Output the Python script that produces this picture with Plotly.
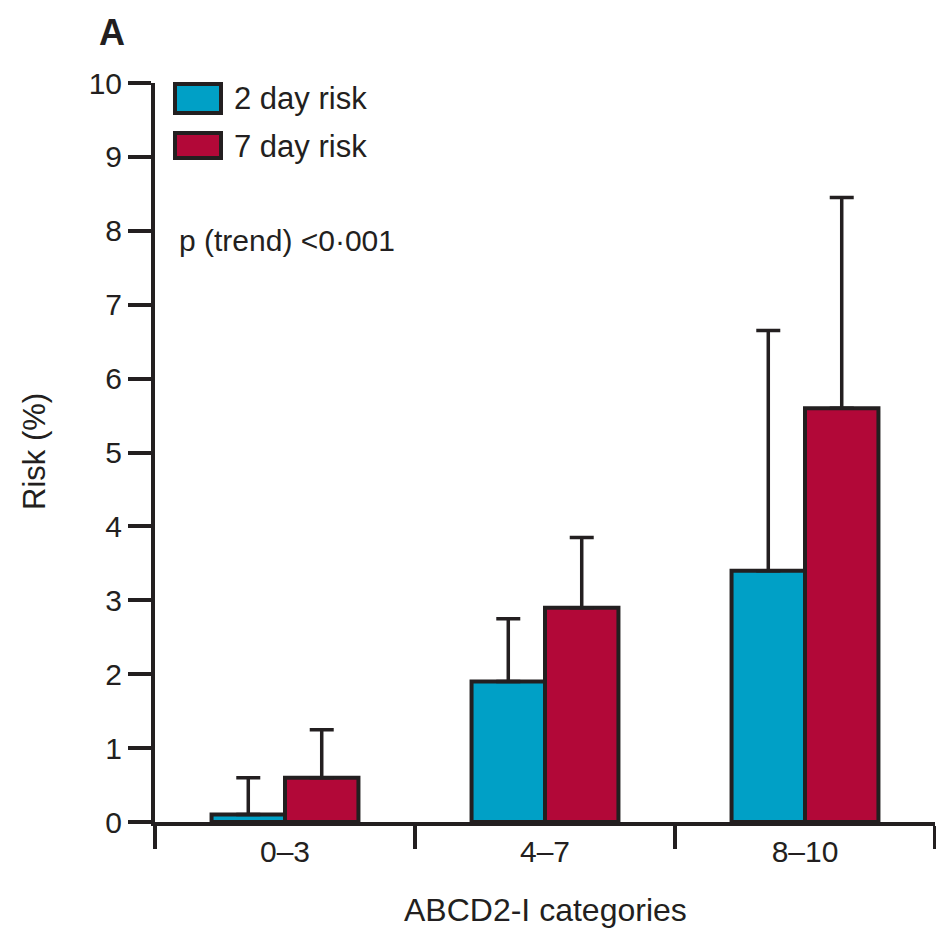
import plotly.graph_objects as go

categories = ["0–3", "4–7", "8–10"]
risk_2day = [0.1, 1.9, 3.4]
risk_2day_upper = [0.6, 2.75, 6.65]
risk_7day = [0.6, 2.9, 5.6]
risk_7day_upper = [1.25, 3.85, 8.45]
y_ticks = list(range(0, 11))

DARK = "#231f20"
BLUE = "#00a0c6"
RED = "#b20838"
FONT = "Liberation Sans, Arial, sans-serif"

err2 = [u - v for u, v in zip(risk_2day_upper, risk_2day)]
err7 = [u - v for u, v in zip(risk_7day_upper, risk_7day)]

fig = go.Figure()
fig.add_trace(go.Bar(
    x=categories, y=risk_2day, name="2 day risk",
    marker=dict(color=BLUE, line=dict(color=DARK, width=4)),
    error_y=dict(type="data", symmetric=False, array=err2, arrayminus=[0]*3,
                 color=DARK, thickness=3.5, width=12),
))
fig.add_trace(go.Bar(
    x=categories, y=risk_7day, name="7 day risk",
    marker=dict(color=RED, line=dict(color=DARK, width=4)),
    error_y=dict(type="data", symmetric=False, array=err7, arrayminus=[0]*3,
                 color=DARK, thickness=3.5, width=12),
))

W, H = 936, 931
L, T = 155, 83
R = W - 935
B = H - 822
pw, ph = W - L - R, H - T - B

def px(x):
    return (x - L) / pw

def py(y):
    return (H - B - y) / ph

shapes = [
    dict(type="rect", xref="paper", yref="paper", x0=px(175), x1=px(221), y0=py(113), y1=py(84),
         fillcolor=BLUE, line=dict(color=DARK, width=4)),
    dict(type="rect", xref="paper", yref="paper", x0=px(175), x1=px(221), y0=py(158), y1=py(133),
         fillcolor=RED, line=dict(color=DARK, width=4)),
]

annotations = [
    dict(text="2 day risk", xref="paper", yref="paper", x=px(232), y=py(98), xanchor="left", yanchor="middle",
         showarrow=False, font=dict(family=FONT, size=31, color=DARK)),
    dict(text="7 day risk", xref="paper", yref="paper", x=px(232), y=py(146), xanchor="left", yanchor="middle",
         showarrow=False, font=dict(family=FONT, size=31, color=DARK)),
    dict(text="p (trend) <0·001", xref="paper", yref="paper", x=px(177), y=py(240), xanchor="left", yanchor="middle",
         showarrow=False, font=dict(family=FONT, size=30, color=DARK)),
    dict(text="<b>A</b>", xref="paper", yref="paper", x=px(112), y=py(32), xanchor="center", yanchor="middle",
         showarrow=False, font=dict(family=FONT, size=36, color=DARK)),
    dict(text="Risk (%)", xref="paper", yref="paper", x=px(35), y=py(452), xanchor="center", yanchor="middle",
         textangle=-90, showarrow=False, font=dict(family=FONT, size=31, color=DARK)),
    dict(text="ABCD2-I categories", xref="paper", yref="paper", x=px(545), y=py(910), xanchor="center", yanchor="middle",
         showarrow=False, font=dict(family=FONT, size=32, color=DARK)),
]

fig.update_layout(
    width=W, height=H,
    margin=dict(l=L, r=R, t=T, b=B),
    paper_bgcolor="white", plot_bgcolor="white",
    barmode="group", bargap=0.435, bargroupgap=0,
    showlegend=False,
    shapes=shapes, annotations=annotations,
    font=dict(family=FONT, color=DARK),
)
fig.update_xaxes(
    type="category", range=[-0.5, 2.5], tickson="boundaries",
    showline=True, linecolor=DARK, linewidth=4,
    ticks="outside", ticklen=23, tickwidth=3.5, tickcolor=DARK,
    tickfont=dict(family=FONT, size=30, color=DARK),
    showgrid=False, zeroline=False,
)
fig.update_yaxes(
    range=[0, 10], tickvals=y_ticks, ticktext=[str(v) for v in y_ticks],
    showline=True, linecolor=DARK, linewidth=4,
    ticks="outside", ticklen=23, tickwidth=3.5, tickcolor=DARK,
    tickfont=dict(family=FONT, size=30, color=DARK),
    showgrid=False, zeroline=False,
)

fig.write_html(
    "out.html",
    config={"displayModeBar": False},
    post_script="document.body.style.margin='0';document.body.style.overflow='hidden';",
)
